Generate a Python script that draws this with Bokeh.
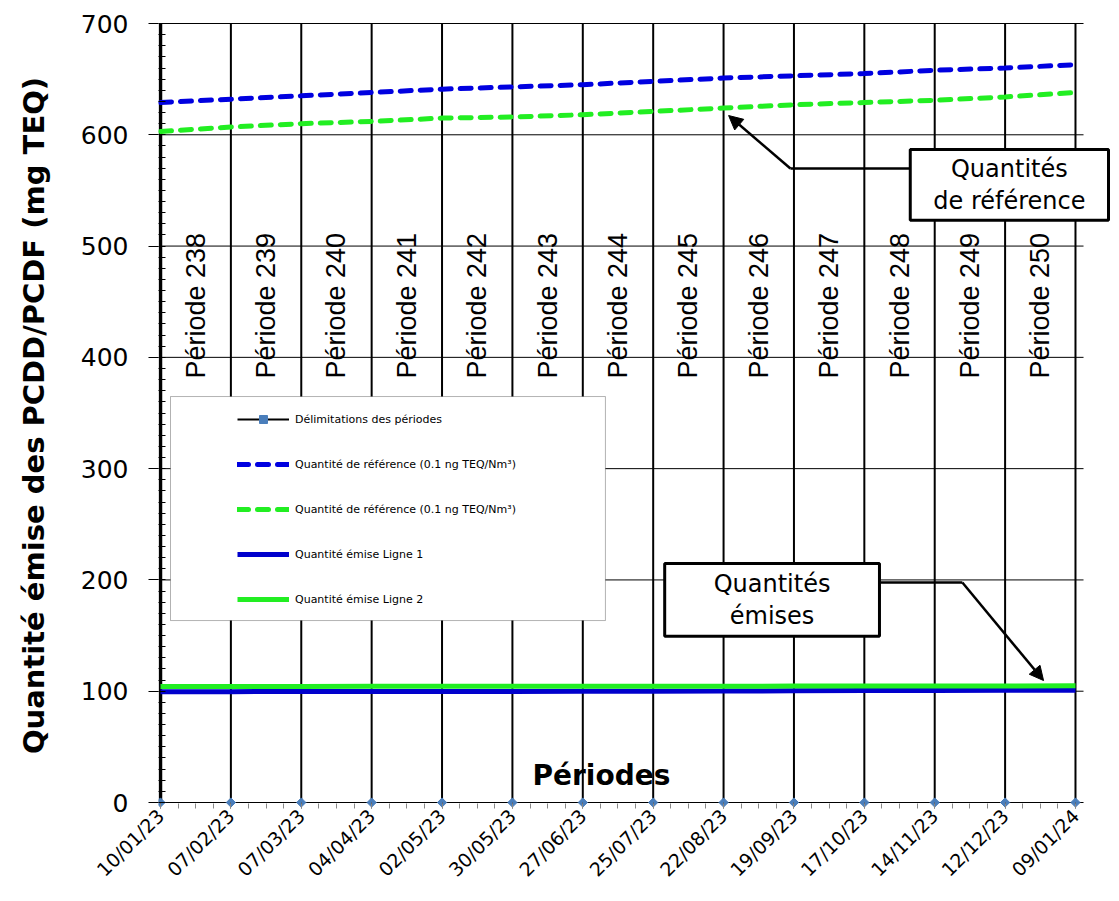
from math import pi
import pandas as pd
from bokeh.plotting import figure
from bokeh.models import (Range1d, FixedTicker, DatetimeTickFormatter, Legend, LegendItem,
                          BoxAnnotation, Label, Arrow, NormalHead)
from bokeh.core.properties import value
from bokeh.embed import file_html
from bokeh.resources import INLINE

# ---------------- data ----------------
dates = ["10/01/23", "07/02/23", "07/03/23", "04/04/23", "02/05/23", "30/05/23", "27/06/23",
         "25/07/23", "22/08/23", "19/09/23", "17/10/23", "14/11/23", "12/12/23", "09/01/24"]
periods = ["Période 238", "Période 239", "Période 240", "Période 241", "Période 242",
           "Période 243", "Période 244", "Période 245", "Période 246", "Période 247",
           "Période 248", "Période 249", "Période 250"]
ref_ligne1 = [629, 632, 635, 638, 641, 643, 645, 648, 651, 653, 655, 658, 660, 663]
ref_ligne2 = [603, 607, 610, 612, 615, 616, 618, 621, 624, 627, 629, 631, 634, 638]
emis_ligne1 = [99.6, 99.6, 99.7, 99.7, 99.8, 99.8, 99.9, 100.0, 100.1, 100.4, 100.6, 100.7, 100.8, 100.9]
emis_ligne2 = [104.2, 104.3, 104.3, 104.4, 104.4, 104.4, 104.5, 104.5, 104.5, 104.6, 104.6, 104.7, 104.7, 104.8]
y_ticks = [0, 100, 200, 300, 400, 500, 600, 700]

DAY = 86400000.0
d = pd.to_datetime(dates, format="%d/%m/%y")
xs = [ts.value / 1e6 for ts in d]
t0 = xs[0]


def X(days):
    return t0 + days * DAY


mids = [(xs[i] + xs[i + 1]) / 2 for i in range(len(xs) - 1)]
weekly = []
w = xs[0]
while w <= xs[-1]:
    weekly.append(w)
    w += 7 * DAY

FONT = "DejaVu Sans"
BLUE = "#0000E0"
BLUE2 = "#0000CC"
GREEN = "#22EE22"

p = figure(width=1112, height=893, x_axis_type="datetime",
           x_range=Range1d(X(-0.7956), X(377.93)), y_range=Range1d(-5.39, 700.9),
           output_backend="svg", toolbar_location=None,
           min_border_left=158, min_border_right=2, min_border_top=22, min_border_bottom=85)
p.outline_line_color = None
p.background_fill_color = "white"
p.border_fill_color = "white"

# grids (drawn as segments so they stop where the reference stops)
p.xgrid.grid_line_color = None
p.ygrid.grid_line_color = None
p.segment(x0=[X(0)] * len(y_ticks), y0=y_ticks, x1=[X(367.2)] * len(y_ticks), y1=y_ticks,
          line_color="black", line_width=1)

# y axis
ya = p.yaxis[0]
ya.ticker = FixedTicker(ticks=y_ticks, minor_ticks=list(range(0, 701, 10)))
ya.axis_line_color = None
ya.major_tick_out = 10
ya.major_tick_in = 0
ya.minor_tick_in = 7
ya.minor_tick_out = 0
ya.major_tick_line_color = "black"
ya.minor_tick_line_color = "black"
ya.major_label_text_font = FONT
ya.major_label_text_font_size = "25px"
ya.major_label_text_color = "black"
ya.major_label_standoff = 20
ya.axis_label = "Quantité émise des PCDD/PCDF (mg TEQ)"
ya.axis_label_text_font = FONT
ya.axis_label_text_font_size = "29px"
ya.axis_label_text_font_style = "bold"
ya.axis_label_text_color = "black"
ya.axis_label_standoff = 27

# x axis (sits at frame bottom, 6px under the zero line; ticks point up to the zero line)
xa = p.xaxis[0]
xa.ticker = FixedTicker(ticks=xs, minor_ticks=weekly)
xa.formatter = DatetimeTickFormatter(days="%d/%m/%y", months="%d/%m/%y", years="%d/%m/%y")
xa.major_label_orientation = pi / 4
xa.major_label_text_font = FONT
xa.major_label_text_font_size = "19px"
xa.major_label_text_color = "black"
xa.major_label_standoff = 4
xa.axis_line_color = None
xa.major_tick_out = 0
xa.major_tick_in = 6
xa.minor_tick_out = 0
xa.minor_tick_in = 5
xa.major_tick_line_color = "#555555"
xa.minor_tick_line_color = "#888888"

# period delimitations
delim = p.segment(x0=xs, y0=[0] * len(xs), x1=xs, y1=[700] * len(xs),
                  line_color="black", line_width=2)
p.segment(x0=[xs[0]], y0=[0], x1=[xs[0]], y1=[700], line_color="black", line_width=3.5)
marks = p.scatter(x=xs, y=[0] * len(xs), marker="square", angle=pi / 4, size=6.5,
                  fill_color="#4A7EBB", line_color="#4A7EBB")

# period labels
p.text(x=mids, y=[381] * len(mids), text=periods, angle=pi / 2, text_align="left",
       text_baseline="middle", text_font=value("Liberation Sans"), text_font_size="27px",
       text_color="black")

# series
r1 = p.line(xs, ref_ligne1, line_color=BLUE, line_width=5, line_dash="11 9", line_cap="round")
r2 = p.line(xs, ref_ligne2, line_color=GREEN, line_width=5, line_dash="11 9", line_cap="round")
e1 = p.line(xs, emis_ligne1, line_color=BLUE2, line_width=5)
e2 = p.line(xs, emis_ligne2, line_color=GREEN, line_width=5)

legend_box = BoxAnnotation(left=X(3.98), right=X(177.0), bottom=163.5, top=364.8,
                           fill_color="white", fill_alpha=1.0, line_color="black", line_width=1)
p.add_layout(legend_box)

leg = Legend(items=[
    LegendItem(label="Délimitations des périodes", renderers=[delim, marks]),
    LegendItem(label="Quantité de référence (0.1 ng TEQ/Nm³)", renderers=[r1]),
    LegendItem(label="Quantité de référence (0.1 ng TEQ/Nm³)", renderers=[r2]),
    LegendItem(label="Quantité émise Ligne 1", renderers=[e1]),
    LegendItem(label="Quantité émise Ligne 2", renderers=[e2]),
], location=(79, 199), padding=0, margin=0, spacing=25, glyph_width=52, glyph_height=20,
    label_height=20, label_standoff=6, label_text_font=FONT, label_text_font_size="11px",
    label_text_color="black", background_fill_alpha=0, border_line_alpha=0)
p.add_layout(leg)

# "Périodes" label
p.add_layout(Label(x=X(175.4), y=24.3, text="Périodes", text_font=FONT, text_font_size="28px",
                   text_font_style="bold", text_align="center", text_baseline="middle",
                   text_color="black"))

# callouts: arrows
p.add_layout(Arrow(end=None, x_start=X(250.6), y_start=569.7, x_end=X(298.5), y_end=569.7,
                   line_color="black", line_width=2.5))
p.add_layout(Arrow(end=NormalHead(size=14, fill_color="black", line_color="black"),
                   x_start=X(250.6), y_start=569.7, x_end=X(226.0), y_end=617.3,
                   line_color="black", line_width=2.5))
p.add_layout(Arrow(end=None, x_start=X(286.4), y_start=197.7, x_end=X(319.0), y_end=197.7,
                   line_color="black", line_width=2.5))
p.add_layout(Arrow(end=NormalHead(size=14, fill_color="black", line_color="black"),
                   x_start=X(319.0), y_start=197.7, x_end=X(351.3), y_end=109.6,
                   line_color="black", line_width=2.5))

# callouts: boxes  (padding order: left, right, top, bottom)
p.add_layout(Label(x=X(337.7), y=554.9, text="Quantités\nde référence", text_font=FONT,
                   text_font_size="24px", text_align="center", text_baseline="middle",
                   text_color="black", text_line_height=1.17,
                   background_fill_color="white", border_line_color="black",
                   border_line_width=3, padding=(23, 23, 5, 5)))
p.add_layout(Label(x=X(243.3), y=182.0, text="Quantités\némises", text_font=FONT,
                   text_font_size="24px", text_align="center", text_baseline="middle",
                   text_color="black", text_line_height=1.17,
                   background_fill_color="white", border_line_color="black",
                   border_line_width=3, padding=(49, 49, 6, 6)))

open("out.html", "w").write(file_html(p, INLINE))
